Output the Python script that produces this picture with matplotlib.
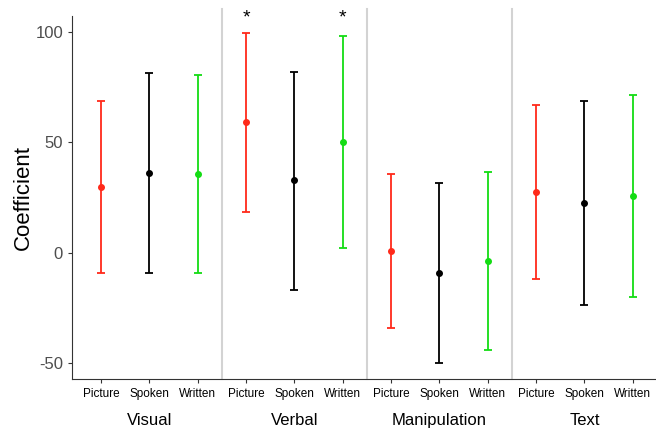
import numpy as np
import matplotlib.pyplot as plt

plt.rcParams['font.family'] = ['Liberation Sans', 'DejaVu Sans']

groups = ["Visual", "Verbal", "Manipulation", "Text"]
modes = ["Picture", "Spoken", "Written"]
colors = ["#ff2a1a", "#000000", "#14dc14"]

# coefficient, lower, upper  (per group: Picture, Spoken, Written)
coef = [[29.9, 36.2, 35.8],
        [59.4, 33.1, 50.3],
        [0.9, -9.2, -3.8],
        [27.5, 22.5, 25.7]]
lower = [[-9.1, -9.1, -9.0],
         [18.6, -16.8, 2.3],
         [-34.0, -49.8, -44.0],
         [-11.9, -23.9, -20.2]]
upper = [[68.9, 81.6, 80.7],
         [99.7, 82.0, 98.3],
         [35.8, 31.6, 36.7],
         [67.0, 68.9, 71.6]]
signif = [[False, False, False],
          [True, False, True],
          [False, False, False],
          [False, False, False]]

fig = plt.figure(figsize=(6.56, 4.28), dpi=100)
ax = fig.add_axes([0.1098, 0.1145, 0.888, 0.848])

xpos = []
xlabs = []
for g in range(4):
    for m in range(3):
        x = g*3 + m + 1
        xpos.append(x)
        xlabs.append(modes[m])
        c = coef[g][m]
        ax.errorbar([x], [c], yerr=[[c-lower[g][m]], [upper[g][m]-c]],
                    fmt='o', color=colors[m], ms=4, elinewidth=1.3,
                    capsize=3.2, capthick=1.3, zorder=3)
        if signif[g][m]:
            ax.text(x, 106.5, "*", ha='center', va='center', fontsize=14,
                    clip_on=False)

for s in [3.5, 6.5, 9.5]:
    ax.plot([s, s], [-57.2, 110.5], color='#d3d3d3', lw=1.5, clip_on=False, zorder=1)

ax.set_xlim(0.4, 12.45)
ax.set_ylim(-57.2, 107.2)
ax.set_xticks(xpos)
ax.set_xticklabels(xlabs, fontsize=8.5, color='black')
ax.set_yticks([-50, 0, 50, 100])
ax.set_yticklabels(["-50", "0", "50", "100"], fontsize=12, color='#4d4d4d')
ax.tick_params(axis='both', length=3, color='#333333', width=0.8)
ax.spines['top'].set_visible(False)
ax.spines['right'].set_visible(False)
ax.spines['left'].set_color('#333333')
ax.spines['bottom'].set_color('#333333')
ax.set_ylabel("Coefficient", fontsize=16, labelpad=1)

for g in range(4):
    ax.text(g*3 + 2, -0.115, groups[g], ha='center', va='center', fontsize=12,
            transform=ax.get_xaxis_transform())

fig.savefig("out.png", dpi=100)
